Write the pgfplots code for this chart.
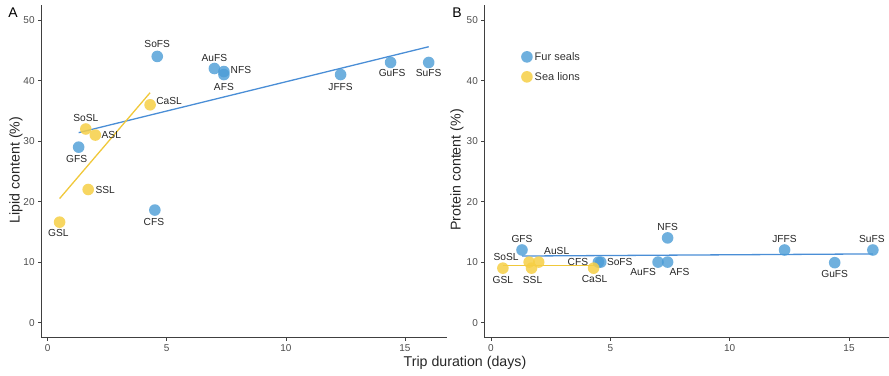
\documentclass[border=0pt]{standalone}
\usepackage{fontspec}
\setmainfont{Liberation Sans}
\usepackage{pgfplots}
\usepackage{pgfplotstable}
\pgfplotsset{compat=1.18}
\definecolor{fsblue}{HTML}{4B9CD6}
\definecolor{fsline}{HTML}{4A8ED6}
\definecolor{slyel}{HTML}{F6CF45}
\definecolor{slline}{HTML}{F0C83A}
\definecolor{tickgray}{HTML}{4D4D4D}

\pgfplotstableread{
name x y dx dy
GFS 1.3 29 -2 -11.5
CFS 4.5 18.6 -1 -11.5
SoFS 4.6 44 0 12
AuFS 7.0 42 0 11
NFS 7.4 41.5 17 2
AFS 7.4 41.0 0 -12
JFFS 12.3 41 0 -12
GuFS 14.4 43 1.5 -10.5
SuFS 16.0 43 0 -11
}\lipidfs
\pgfplotstableread{
name x y dx dy
GSL 0.5 16.6 -1.3 -11
SoSL 1.6 32 0 11
SSL 1.7 22 17 0
ASL 2.0 31 16 0
CaSL 4.3 36 19 4
}\lipidsl
\pgfplotstableread{
name x y dx dy
GFS 1.3 12 0 11
CFS 4.5 10 -20.5 0
SoFS 4.6 10 19 0
AuFS 7.0 10 -15 -10
NFS 7.4 14 0 11
AFS 7.4 10 12 -10
JFFS 12.3 12 0 11
GuFS 14.4 9.9 0 -11.5
SuFS 16.0 12 -1 11
}\proteinfs
\pgfplotstableread{
name x y dx dy
GSL 0.5 9 0 -11.5
SoSL 1.6 10 -23 5
SSL 1.7 9 1 -11.5
AuSL 2.0 10 18 11
CaSL 4.3 9 1 -11
}\proteinsl

\pgfplotsset{
  panel/.style={
    scale only axis,
    anchor=south west,
    height=332.7pt,
    axis lines=left,
    axis line style={-, black!75, line width=0.6pt},
    xmin=-0.275, ymin=-2.5, ymax=52.5,
    xtick={0,5,10,15}, ytick={0,10,20,30,40,50},
    tick align=outside,
    major tick length=3pt,
    tick style={black!75, line width=0.6pt},
    minor tick num=0,
    ticklabel style={font=\fontsize{10}{12}\selectfont, text=tickgray},
    /pgf/number format/assume math mode=true,
    clip=false,
  },
  lab/.style={
    nodes near coords,
    point meta=explicit symbolic,
    visualization depends on={\thisrow{dx}\as\dx},
    visualization depends on={\thisrow{dy}\as\dy},
    every node near coord/.append style={anchor=center, xshift=\dx pt, yshift=\dy pt,
      font=\fontsize{10.2}{12}\selectfont, text=black!85, inner sep=0pt, opacity=1},
  },
  fsmark/.style={only marks, mark=*, mark size=5.8pt, color=fsblue,
    mark options={draw opacity=0, fill=fsblue, fill opacity=0.8}},
  slmark/.style={only marks, mark=*, mark size=5.8pt, color=slyel,
    mark options={draw opacity=0, fill=slyel, fill opacity=0.85}},
}

\begin{document}
\begin{tikzpicture}[x=1pt,y=1pt]
\useasboundingbox (0,0) rectangle (889,375);

\begin{axis}[panel, at={(41.15pt,37.3pt)}, width=406pt, xmax=16.775]
\addplot[fsmark, lab] table[x=x, y=y, meta=name] {\lipidfs};
\addplot[slmark, lab] table[x=x, y=y, meta=name] {\lipidsl};
\addplot[fsline, line width=1.3pt, no marks] coordinates {(1.3,31.4) (16.0,45.6)};
\addplot[slline, line width=1.3pt, no marks] coordinates {(0.5,20.5) (4.3,38.0)};
\end{axis}

\begin{axis}[panel, at={(484.4pt,37.3pt)}, width=404.6pt, xmax=16.675,
  legend style={draw=none, fill=none, at={(axis cs:1.13,45.4)}, anchor=north west,
    font=\fontsize{11}{13}\selectfont, text=black!80, row sep=6.5pt,
    /tikz/every even column/.append style={column sep=4pt}},
  legend cell align=left]
\addplot[fsmark, lab] table[x=x, y=y, meta=name] {\proteinfs};
\addlegendentry{Fur seals}
\addplot[slmark, lab] table[x=x, y=y, meta=name] {\proteinsl};
\addlegendentry{Sea lions}
\addplot[fsline, line width=1.3pt, no marks, forget plot] coordinates {(1.3,11.0) (16.0,11.35)};
\addplot[slline, line width=1.3pt, no marks, forget plot] coordinates {(0.5,9.4) (4.3,9.4)};
\end{axis}

\node[rotate=90, font=\fontsize{14.2}{17}\selectfont, text=black!85] at (16,205) {Lipid content (\%)};
\node[rotate=90, font=\fontsize{14.2}{17}\selectfont, text=black!85] at (457,205) {Protein content (\%)};
\node[font=\fontsize{14.2}{17}\selectfont, text=black!85] at (465,12) {Trip duration (days)};
\node[font=\fontsize{14}{16}\selectfont] at (13,362) {A};
\node[font=\fontsize{14}{16}\selectfont] at (457,362) {B};
\end{tikzpicture}
\end{document}
